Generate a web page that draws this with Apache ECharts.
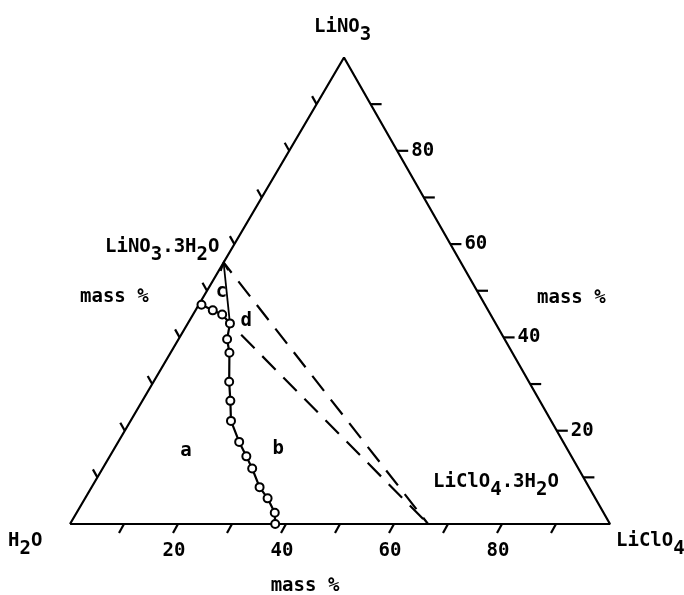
<!DOCTYPE html>
<html>
<head>
<meta charset="utf-8">
<script src="https://cdn.jsdelivr.net/npm/echarts@6/dist/echarts.min.js"></script>
<style>
html,body{margin:0;padding:0;background:#fff;}
#c{width:684px;height:595px;}
</style>
</head>
<body>
<div id="c"></div>
<script>
// ---- DATA (mass %, ternary: LiClO4 / LiNO3 / H2O = rest) ----
const vertexLiClO4 = [0, 100, 0];          // H2O, LiClO4, LiNO3 corners
const vertexLiNO3  = [0, 0, 100];
// solubility curve (measured points)
const curveLiClO4 = [0.5, 3.2, 5.4, 7.8, 9.0, 10.9, 14.0, 16.3, 18.6, 22.4, 25.3, 27.7, 31.1, 33.8, 36.7, 38.0];
const curveLiNO3  = [47.0, 45.8, 44.9, 43.0, 39.6, 36.7, 30.5, 26.4, 22.1, 17.6, 14.5, 11.9, 7.9, 5.5, 2.4, 0.0];
// hydrates and invariant point d
const hydrateLiNO3  = [0.0, 56.06];   // LiNO3·3H2O  [LiClO4, LiNO3]
const hydrateLiClO4 = [66.31, 0.0];   // LiClO4·3H2O [LiClO4, LiNO3]
const pointD        = [7.8, 43.0];    // [LiClO4, LiNO3]
// axis ticks
const tickValues = [10, 20, 30, 40, 50, 60, 70, 80, 90];
const tickLabels = ['20', '40', '60', '80'];
// region letters
const regionNames  = ['a', 'b', 'c', 'd'];
const regionLiClO4 = [13.5, 30.4, 2.8, 10.5];
const regionLiNO3  = [15.7, 16.1, 49.8, 43.6];

// ---- geometry helpers ----
const K = 0.5074;                       // apex position along the base
function toXY(c, n) { return [c + K * n, n]; }
const FONT = '"DejaVu Sans Mono", monospace';
const FS = 19;
const FW = 'bold';

function chem(s) {
  return s.split(/(_\d)/).filter(t => t).map(t => t[0] === '_' ? '{s|' + t.slice(1) + '}' : '{n|' + t + '}').join('');
}
const RICH = {
  n: { fontSize: FS, fontFamily: FONT, fontWeight: FW, verticalAlign: 'top', fill: '#000' },
  s: { fontSize: FS, fontFamily: FONT, fontWeight: FW, verticalAlign: 'top', padding: [8, 0, 0, 0], fill: '#000' }
};
function chemText(s, x, capCenterY) {
  return { type: 'text', x: x, y: capCenterY - FS / 2, silent: true,
    style: { text: chem(s), rich: RICH, align: 'left', verticalAlign: 'top', fill: '#000' } };
}
function plainText(s, x, cy, align) {
  return { type: 'text', x: x, y: cy, silent: true,
    style: { text: s, font: FW + ' ' + FS + 'px ' + FONT, fill: '#000', align: align || 'left', verticalAlign: 'middle' } };
}

function tickSeries(pointOf, dx, dy, labelDx, labelDy, labelAlign) {
  return {
    type: 'custom', coordinateSystem: 'cartesian2d', silent: true, clip: false, z: 3,
    data: tickValues.map(v => [v, 0]),
    renderItem: function (params, api) {
      const v = api.value(0);
      const p = api.coord(pointOf(v));
      const children = [{ type: 'line', shape: { x1: p[0], y1: p[1], x2: p[0] + dx, y2: p[1] + dy },
        style: { stroke: '#000', lineWidth: 2.2 } }];
      if (labelAlign && tickLabels.indexOf(String(v)) >= 0) {
        children.push({ type: 'text', style: { text: String(v), x: p[0] + labelDx, y: p[1] + labelDy,
          align: labelAlign, verticalAlign: 'middle', fontSize: FS, fontWeight: FW, fontFamily: FONT, fill: '#000' } });
      }
      return { type: 'group', children: children };
    }
  };
}

const chart = echarts.init(document.getElementById('c'));
const option = {
  animation: false,
  backgroundColor: '#fff',
  grid: { left: 70, right: 74, top: 57.5, bottom: 71 },
  xAxis: { type: 'value', min: 0, max: 100, show: false },
  yAxis: { type: 'value', min: 0, max: 100, show: false },
  series: [
    { // triangle
      type: 'line', silent: true, symbol: 'none', z: 2,
      data: [0, 1, 2, 0].map(i => toXY(vertexLiClO4[i], vertexLiNO3[i])),
      lineStyle: { color: '#000', width: 2.2 }
    },
    tickSeries(v => toXY(v, 0), -5, 9, -4, 27, 'center'),          // bottom: LiClO4
    tickSeries(v => toXY(100 - v, v), 11, 0, 14, 0, 'left'),         // right: LiNO3
    tickSeries(v => toXY(0, v), -4.5, -8, 0, 0, null),               // left
    { // upper dashed tie line
      type: 'line', silent: true, symbol: 'none', z: 2,
      data: [toXY(hydrateLiNO3[0], hydrateLiNO3[1]), toXY(hydrateLiClO4[0], hydrateLiClO4[1])],
      lineStyle: { color: '#000', width: 2.2, type: [19, 11], dashOffset: 6 }
    },
    { // lower dashed tie line
      type: 'line', silent: true, symbol: 'none', z: 2,
      data: [toXY(pointD[0], pointD[1]), toXY(hydrateLiClO4[0], hydrateLiClO4[1])],
      lineStyle: { color: '#000', width: 2.2, type: [19, 11], dashOffset: 14 }
    },
    { // line c
      type: 'line', silent: true, symbol: 'none', z: 2,
      data: [toXY(pointD[0], pointD[1]), toXY(hydrateLiNO3[0], hydrateLiNO3[1])],
      lineStyle: { color: '#000', width: 1.8 }
    },
    { // arrow head on line c
      type: 'custom', coordinateSystem: 'cartesian2d', silent: true, clip: false, z: 4,
      data: [[0, 0]],
      renderItem: function (params, api) {
        const a = api.coord(toXY(pointD[0], pointD[1]));
        const b = api.coord(toXY(hydrateLiNO3[0], hydrateLiNO3[1]));
        const L = Math.hypot(b[0] - a[0], b[1] - a[1]);
        const ux = (b[0] - a[0]) / L, uy = (b[1] - a[1]) / L;
        const len = 9, ang = 0.42;
        const pts = [ang, -ang].map(t => {
          const c = Math.cos(t), s = Math.sin(t);
          return [b[0] - len * (ux * c - uy * s), b[1] - len * (ux * s + uy * c)];
        });
        return { type: 'polyline', shape: { points: [pts[0], b, pts[1]] },
          style: { stroke: '#000', lineWidth: 1.8, fill: null } };
      }
    },
    { // solubility curve
      type: 'line', silent: true, z: 5,
      data: curveLiClO4.map((c, i) => toXY(c, curveLiNO3[i])),
      symbol: 'circle', symbolSize: 8, showSymbol: true,
      itemStyle: { color: '#fff', borderColor: '#000', borderWidth: 2 },
      lineStyle: { color: '#000', width: 2.2 }
    },
    { // region letters
      type: 'custom', coordinateSystem: 'cartesian2d', silent: true, clip: false, z: 6,
      data: regionNames.map((n, i) => [regionLiClO4[i], regionLiNO3[i]]),
      renderItem: function (params, api) {
        const p = api.coord(toXY(api.value(0), api.value(1)));
        return { type: 'text', style: { text: regionNames[params.dataIndex], x: p[0], y: p[1],
          align: 'center', verticalAlign: 'middle', fontSize: FS, fontWeight: FW, fontFamily: FONT, fill: '#000' } };
      }
    }
  ],
  graphic: [
    chemText('LiNO_3', 314, 27),
    chemText('LiNO_3.3H_2O', 105, 247),
    chemText('H_2O', 8, 541),
    chemText('LiClO_4', 616, 541),
    chemText('LiClO_4.3H_2O', 433, 482.5),
    plainText('mass %', 80, 297.5),
    plainText('mass %', 537, 298.5),
    plainText('mass %', 305, 586, 'center')
  ]
};
chart.setOption(option);
</script>
</body>
</html>
